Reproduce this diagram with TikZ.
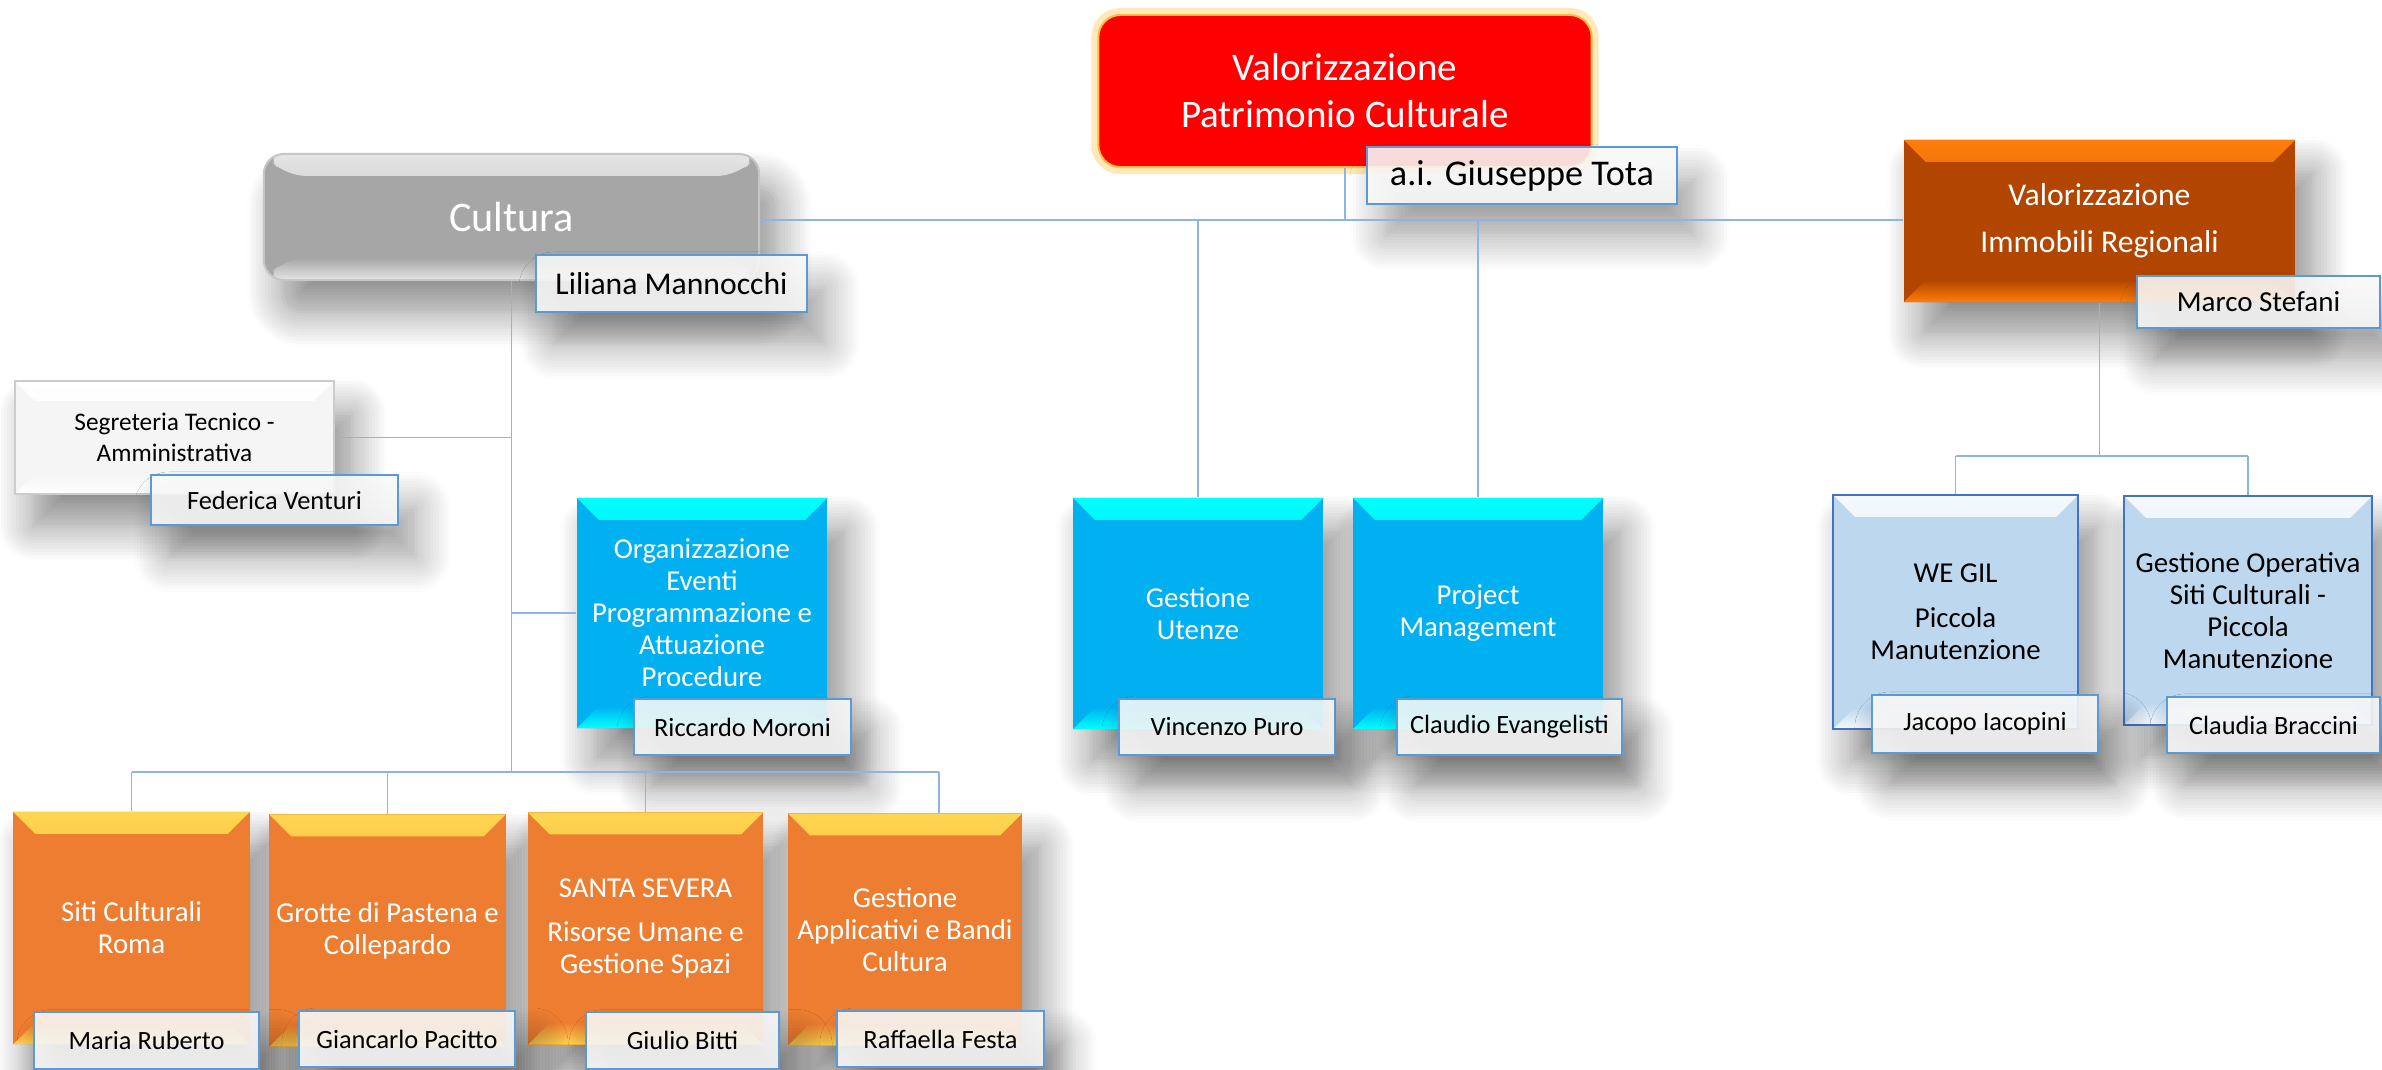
\documentclass[tikz,border=0pt]{standalone}
\usepackage{fontspec}
\setmainfont{Carlito}
\usetikzlibrary{shadows.blur}
\definecolor{linkblue}{RGB}{142,180,227}
\definecolor{nameblue}{RGB}{91,155,213}
\definecolor{boxblue}{RGB}{0,176,240}
\definecolor{boxcyan}{RGB}{0,255,255}
\definecolor{boxorange}{RGB}{237,125,49}
\definecolor{boxyellow}{RGB}{255,214,80}
\definecolor{boxbrown}{RGB}{178,70,0}
\definecolor{boxbright}{RGB}{255,125,10}
\definecolor{boxgray}{RGB}{166,166,166}
\definecolor{boxpale}{RGB}{189,215,238}
\definecolor{paleedge}{RGB}{68,114,196}
\definecolor{boxred}{RGB}{255,0,0}
\definecolor{glow}{RGB}{255,190,60}
\tikzset{
	,softshadow/.style = {blur shadow={shadow xshift=0.18cm, shadow yshift=-0.32cm, shadow blur radius=0.35cm, shadow blur steps=12, shadow opacity=45}}
	,bevelbox/.style n args = {3}{path picture={
		\fill[top color=#1, bottom color=#2] (path picture bounding box.north west) -- (path picture bounding box.north east)
			-- ([shift={(-#3,-#3)}]path picture bounding box.north east) -- ([shift={(#3,-#3)}]path picture bounding box.north west) -- cycle;
		\fill[bottom color=#1, top color=#2] (path picture bounding box.south west) -- (path picture bounding box.south east)
			-- ([shift={(-#3,#3)}]path picture bounding box.south east) -- ([shift={(#3,#3)}]path picture bounding box.south west) -- cycle;
	}}
	,unit/.style     = {rectangle, align=center, text=white, inner sep=0pt, softshadow, font=\fontsize{8.2}{9.1}\selectfont}
	,blueunit/.style = {unit, fill=boxblue, bevelbox={boxcyan}{boxblue}{0.22cm}, minimum width=2.5cm, minimum height=2.31cm}
	,orgunit/.style  = {unit, fill=boxorange, bevelbox={boxyellow}{boxorange}{0.22cm}, minimum width=2.36cm, minimum height=2.32cm}
	,paleunit/.style = {unit, text=black, fill=boxpale, draw=paleedge, line width=0.025cm, bevelbox={white!85!boxpale}{boxpale}{0.22cm}, minimum width=2.46cm, minimum height=2.32cm}
	,namebox/.style  = {rectangle, draw=nameblue, line width=0.02cm, fill=white!96!gray, fill opacity=0.88, text opacity=1, inner sep=0pt, minimum height=0.56cm, softshadow, font=\fontsize{7.5}{9}\selectfont}
	,link/.style     = {draw=linkblue, line width=0.017cm}
}

\begin{document}
\begin{tikzpicture}[x=0.01cm, y=-0.01cm]
	\useasboundingbox (0,0) rectangle (2382,1070);
	% head and first level
	\node[rectangle, rounded corners=0.22cm, fill=boxred, draw=glow, line width=0.02cm, preaction={draw=glow, line width=0.14cm, draw opacity=0.35},
		minimum width=4.93cm, minimum height=1.52cm, align=center, text=white, font=\fontsize{11.1}{13.4}\selectfont] (vpc) at (1345,91) {Valorizzazione\\Patrimonio Culturale};
	\node[namebox, minimum width=3.10cm, font=\fontsize{10.3}{12}\selectfont] (tota) at (1522,175.5) {a.i. Giuseppe Tota};
	\node[unit, rounded corners=0.2cm, fill=boxgray, draw=gray!45, line width=0.02cm, bevelbox={white!80!gray}{boxgray}{0.22cm},
		minimum width=4.95cm, minimum height=1.26cm, font=\fontsize{12}{14}\selectfont] (cult) at (511.5,217) {Cultura};
	\node[namebox, minimum width=2.71cm, minimum height=0.57cm, font=\fontsize{9}{11}\selectfont] (lil) at (671.5,283.5) {Liliana Mannocchi};
	\node[unit, fill=boxbrown, bevelbox={boxbright}{boxbrown}{0.22cm}, minimum width=3.91cm, minimum height=1.62cm,
		font=\fontsize{9}{10.5}\selectfont] (imm) at (2099.5,221) {Valorizzazione\\[0.1cm]Immobili Regionali};
	\node[namebox, minimum width=2.43cm, minimum height=0.52cm, font=\fontsize{8.25}{10}\selectfont] (mst) at (2258.5,302) {Marco Stefani};
	% Cultura
	\node[unit, text=black, fill=gray!8, draw=gray!40, line width=0.02cm, bevelbox={white}{gray!8}{0.2cm}, minimum width=3.19cm, minimum height=1.13cm,
		font=\fontsize{7.2}{8.8}\selectfont] (segr) at (174.5,437.5) {Segreteria Tecnico -\\Amministrativa};
	\node[namebox, minimum width=2.47cm, minimum height=0.50cm] (fed) at (274.5,500) {Federica Venturi};
	\node[blueunit, minimum height=2.30cm] (org) at (702,613) {Organizzazione\\Eventi\\Programmazione e\\Attuazione\\Procedure};
	\node[namebox, minimum width=2.17cm] (ric) at (742.5,727) {Riccardo Moroni};
	\node[orgunit] (siti)  at (131.5,928)   {Siti Culturali\\Roma};
	\node[orgunit] (grot)  at (387.5,930.5) {Grotte di Pastena e\\Collepardo};
	\node[orgunit, minimum width=2.35cm] (santa) at (645.5,928.5) {SANTA SEVERA\\[0.12cm]Risorse Umane e\\Gestione Spazi};
	\node[orgunit, minimum width=2.34cm] (gab)   at (905,929.5)   {Gestione\\Applicativi e Bandi\\Cultura};
	\node[namebox, minimum width=2.25cm] (mar) at (146.5,1040.5) {Maria Ruberto};
	\node[namebox, minimum width=2.16cm] (gia) at (407,1039)     {Giancarlo Pacitto};
	\node[namebox, minimum width=1.93cm] (giu) at (682.5,1040.5) {Giulio Bitti};
	\node[namebox, minimum width=2.07cm] (raf) at (940.5,1039)   {Raffaella Festa};
	% staff units
	\node[blueunit] (gu) at (1198,613.5) {Gestione\\Utenze};
	\node[namebox, minimum width=2.16cm] (vin) at (1227,727) {Vincenzo Puro};
	\node[blueunit] (pm) at (1478,613.5) {Project\\Management};
	\node[namebox, minimum width=2.25cm] (cla) at (1509.5,727) {Claudio Evangelisti};
	% Immobili
	\node[paleunit, minimum width=2.45cm, minimum height=2.34cm] (weg) at (1955.5,612) {WE GIL\\[0.13cm]Piccola\\Manutenzione};
	\node[paleunit, minimum width=2.48cm, minimum height=2.29cm] (gop) at (2248,610.5) {Gestione Operativa\\Siti Culturali -\\Piccola\\Manutenzione};
	\node[namebox, minimum width=2.26cm, minimum height=0.58cm] (jac) at (1985,724) {Jacopo Iacopini};
	\node[namebox, minimum width=2.13cm] (clb) at (2273.5,725) {Claudia Braccini};
	% connectors
	\coordinate (bus)  at (1339,220);
	\coordinate (lbus) at (513,772);
	\coordinate (rbus) at (2100,456);
	\draw[link] (vpc.south) -- (vpc.south |- bus);
	\draw[link] (cult.east |- bus) -- (imm.west |- bus);
	\draw[link] (gu.north |- bus) -- (gu.north);
	\draw[link] (pm.north |- bus) -- (pm.north);
	\draw[link] (cult.south) -- (cult.south |- lbus);
	\draw[link] (segr.east) -- (segr.east -| cult.south);
	\draw[link] (org.west) -- (org.west -| cult.south);
	\draw[link] (siti.north |- lbus) -- ([xshift=0.34cm]gab.north |- lbus);
	\draw[link] (siti.north |- lbus) -- (siti.north);
	\draw[link] (grot.north |- lbus) -- (grot.north);
	\draw[link] (santa.north |- lbus) -- (santa.north);
	\draw[link] ([xshift=0.34cm]gab.north |- lbus) -- ([xshift=0.34cm]gab.north);
	\draw[link] (imm.south) -- (imm.south |- rbus);
	\draw[link] (weg.north |- rbus) -- (gop.north |- rbus);
	\draw[link] (weg.north |- rbus) -- (weg.north);
	\draw[link] (gop.north |- rbus) -- (gop.north);
\end{tikzpicture}
\end{document}
